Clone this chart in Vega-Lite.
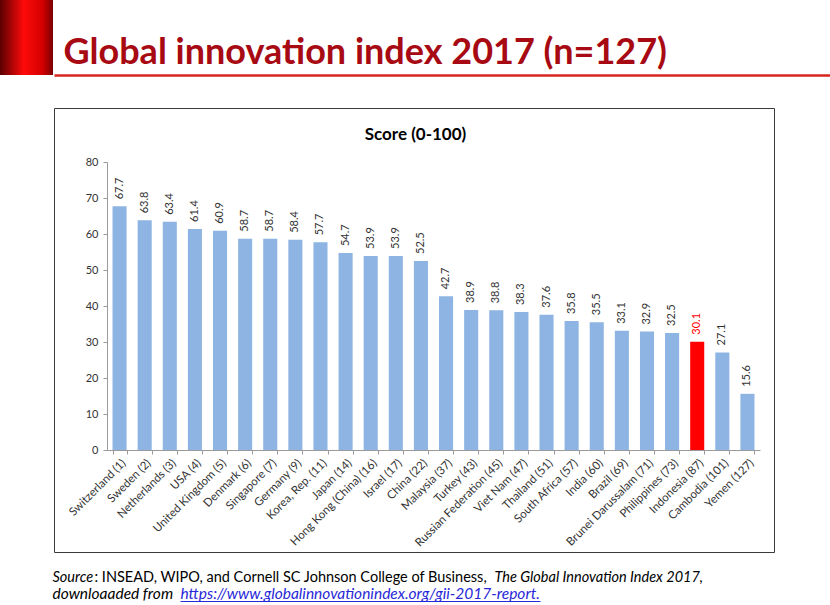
{
  "$schema": "https://vega.github.io/schema/vega-lite/v6.json",
  "background": "white",
  "padding": 0,
  "config": {
    "font": "Lato",
    "axis": {"labelFont": "Lato", "titleFont": "Lato"}
  },
  "bounds": "flush",
  "spacing": 1,
  "hconcat": [
    {
      "width": 53,
      "height": 75,
      "view": {"stroke": null},
      "data": {"values": [{"k": 1}]},
      "mark": {
        "type": "rect",
        "color": {
          "gradient": "linear",
          "x1": 0, "y1": 0, "x2": 1, "y2": 0,
          "stops": [
            {"offset": 0, "color": "#5a0000"},
            {"offset": 0.45, "color": "#ff0a0a"},
            {"offset": 0.8, "color": "#d40000"},
            {"offset": 1, "color": "#7a0000"}
          ]
        }
      },
      "encoding": {}
    },
    {
      "bounds": "flush",
      "spacing": 33,
      "vconcat": [
        {
          "width": 776,
          "height": 75,
          "view": {"stroke": null},
          "data": {"values": [{"v": 0}, {"v": 1}]},
          "layer": [
            {
              "mark": {"type": "point", "opacity": 0, "size": 0},
              "encoding": {
                "x": {
                  "field": "v", "type": "quantitative",
                  "scale": {"domain": [-1, 2], "nice": false},
                  "axis": {
                    "orient": "bottom", "domain": true, "domainColor": "#d9261c", "domainWidth": 2.5,
                    "ticks": false, "labels": false, "grid": false,
                    "title": "https://www.globalinnovationindex.org/gii-2017-report.",
                    "titleX": 126, "titleY": 523, "titleAlign": "left", "titleBaseline": "alphabetic",
                    "titleFontSize": 15.5, "titleFontWeight": "normal", "titleFontStyle": "italic", "titleColor": "#2828d8"
                  }
                },
                "y": {
                  "field": "v", "type": "quantitative",
                  "scale": {"domain": [-1, 2], "nice": false},
                  "axis": {
                    "orient": "left", "domain": false, "ticks": false, "labels": false, "grid": false,
                    "title": "Global innovation index 2017 (n=127)",
                    "titleAngle": 0, "titleX": 9, "titleY": 63, "titleAlign": "left", "titleBaseline": "alphabetic",
                    "titleFontSize": 36, "titleFontWeight": "bold", "titleColor": "#a80a14"
                  }
                }
              }
            },
            {
              "mark": {"type": "point", "opacity": 0, "size": 0},
              "encoding": {
                "x": {
                  "field": "v", "type": "quantitative",
                  "scale": {"domain": [0, 1], "range": [126, 486], "nice": false},
                  "axis": {
                    "orient": "top", "offset": -601, "domain": true, "domainColor": "#2828d8", "domainWidth": 1,
                    "ticks": false, "labels": false, "grid": false, "title": null
                  }
                },
                "y": {
                  "field": "v", "type": "quantitative",
                  "axis": {
                    "orient": "right", "domain": false, "ticks": false, "labels": false, "grid": false,
                    "title": "downloaaded from",
                    "titleAngle": 0, "titleX": -778, "titleY": 598, "titleAlign": "left", "titleBaseline": "alphabetic",
                    "titleFontSize": 15.5, "titleFontWeight": "normal", "titleFontStyle": "italic", "titleColor": "#000000"
                  }
                }
              }
            }
          ],
          "resolve": {"scale": {"x": "independent"}, "axis": {"x": "independent", "y": "independent"}}
        },
        {
          "width": 720,
          "height": 444,
          "view": {"stroke": "#3a3a3a", "strokeWidth": 1},
          "data": {
            "values": [
              {"country": "Switzerland (1)", "score": 67.7, "hl": "n"},
              {"country": "Sweden (2)", "score": 63.8, "hl": "n"},
              {"country": "Netherlands (3)", "score": 63.4, "hl": "n"},
              {"country": "USA (4)", "score": 61.4, "hl": "n"},
              {"country": "United Kingdom (5)", "score": 60.9, "hl": "n"},
              {"country": "Denmark (6)", "score": 58.7, "hl": "n"},
              {"country": "Singapore (7)", "score": 58.7, "hl": "n"},
              {"country": "Germany (9)", "score": 58.4, "hl": "n"},
              {"country": "Korea, Rep. (11)", "score": 57.7, "hl": "n"},
              {"country": "Japan (14)", "score": 54.7, "hl": "n"},
              {"country": "Hong Kong (China) (16)", "score": 53.9, "hl": "n"},
              {"country": "Israel (17)", "score": 53.9, "hl": "n"},
              {"country": "China (22)", "score": 52.5, "hl": "n"},
              {"country": "Malaysia (37)", "score": 42.7, "hl": "n"},
              {"country": "Turkey (43)", "score": 38.9, "hl": "n"},
              {"country": "Russian Federation (45)", "score": 38.8, "hl": "n"},
              {"country": "Viet Nam (47)", "score": 38.3, "hl": "n"},
              {"country": "Thailand (51)", "score": 37.6, "hl": "n"},
              {"country": "South Africa (57)", "score": 35.8, "hl": "n"},
              {"country": "India (60)", "score": 35.5, "hl": "n"},
              {"country": "Brazil (69)", "score": 33.1, "hl": "n"},
              {"country": "Brunei Darussalam (71)", "score": 32.9, "hl": "n"},
              {"country": "Philippines (73)", "score": 32.5, "hl": "n"},
              {"country": "Indonesia (87)", "score": 30.1, "hl": "y"},
              {"country": "Cambodia (101)", "score": 27.1, "hl": "n"},
              {"country": "Yemen (127)", "score": 15.6, "hl": "n"}
            ]
          },
          "layer": [
            {
              "mark": {"type": "bar"},
              "encoding": {
                "x": {
                  "field": "country", "type": "nominal", "sort": null,
                  "scale": {"range": [53, 706], "paddingInner": 0.44, "paddingOuter": 0.22},
                  "axis": {
                    "orient": "bottom", "offset": -102,
                    "labelAngle": -45, "labelFontSize": 11.5, "labelColor": "#333333", "labelPadding": 3,
                    "tickBand": "extent", "tickSize": 4, "tickColor": "#9a9a9a", "domainColor": "#9a9a9a", "grid": false,
                    "title": ": INSEAD, WIPO, and Cornell SC Johnson College of Business,",
                    "titleX": 40, "titleY": 131, "titleAlign": "left", "titleBaseline": "alphabetic",
                    "titleFontSize": 14.5, "titleFontWeight": "normal", "titleColor": "#000000"
                  }
                },
                "y": {
                  "field": "score", "type": "quantitative",
                  "scale": {"domain": [0, 80], "range": [342, 54], "nice": false},
                  "axis": {
                    "orient": "left", "offset": -53,
                    "values": [0, 10, 20, 30, 40, 50, 60, 70, 80],
                    "labelFontSize": 11, "labelColor": "#333333", "labelPadding": 5,
                    "tickSize": 4, "tickColor": "#9a9a9a", "domainColor": "#9a9a9a", "grid": false,
                    "title": "Source",
                    "titleAngle": 0, "titleX": -55, "titleY": 473, "titleAlign": "left", "titleBaseline": "alphabetic",
                    "titleFontSize": 14.5, "titleFontWeight": "normal", "titleFontStyle": "italic", "titleColor": "#000000"
                  }
                },
                "color": {"condition": {"test": "datum.hl === 'y'", "value": "#ff0000"}, "value": "#8db4e2"}
              }
            },
            {
              "mark": {"type": "text", "angle": 270, "align": "left", "baseline": "middle", "dx": 7, "fontSize": 11},
              "encoding": {
                "x": {
                  "field": "country", "type": "nominal", "sort": null,
                  "axis": {
                    "orient": "top", "domain": false, "ticks": false, "labels": false, "grid": false,
                    "title": "Score (0-100)",
                    "titleX": 361, "titleY": 31, "titleAlign": "center", "titleBaseline": "alphabetic",
                    "titleFontSize": 17, "titleFontWeight": "bold", "titleColor": "#000000"
                  }
                },
                "y": {
                  "field": "score", "type": "quantitative",
                  "axis": {
                    "orient": "right", "domain": false, "ticks": false, "labels": false, "grid": false,
                    "title": "The Global Innovation Index 2017,",
                    "titleAngle": 0, "titleX": -280, "titleY": 473, "titleAlign": "left", "titleBaseline": "alphabetic",
                    "titleFontSize": 14.5, "titleFontWeight": "normal", "titleFontStyle": "italic", "titleColor": "#000000"
                  }
                },
                "text": {"field": "score", "type": "quantitative", "format": ".1f"},
                "color": {"condition": {"test": "datum.hl === 'y'", "value": "#ff0000"}, "value": "#333333"}
              }
            }
          ],
          "resolve": {"axis": {"x": "independent", "y": "independent"}}
        }
      ]
    }
  ]
}
